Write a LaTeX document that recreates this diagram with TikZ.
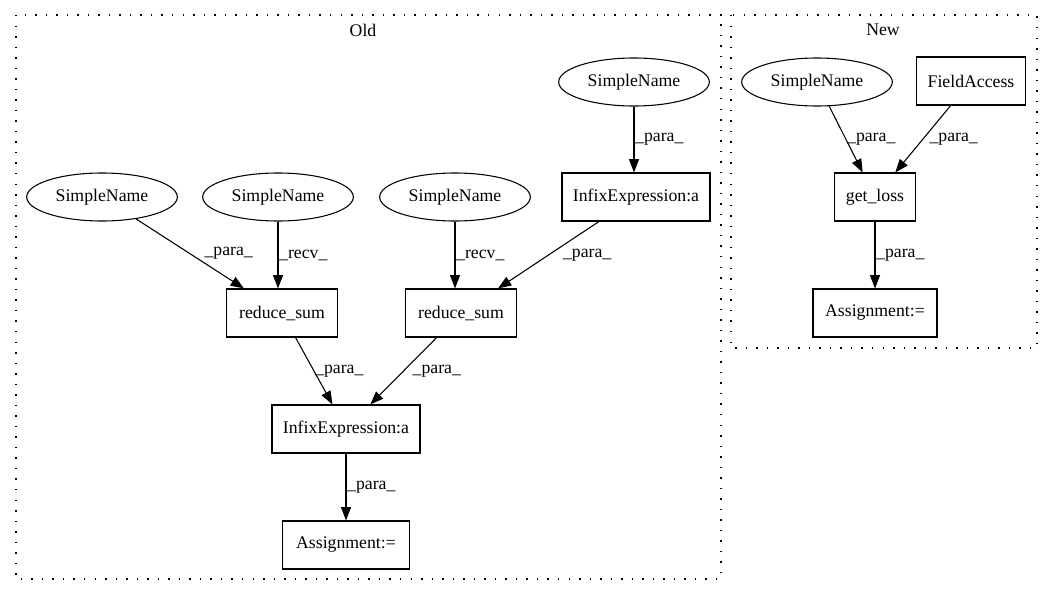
\documentclass[tikz,border=0pt]{standalone}
\usepackage{fontspec}
\setmainfont{Liberation Serif}
\usetikzlibrary{arrows.meta,shapes.geometric}

\tikzset{
  sname/.style={ellipse, draw, minimum width=113pt, minimum height=36pt, inner sep=0pt},
  ebox/.style={rectangle, draw, minimum height=36pt, inner sep=0pt},
  lbl/.style={anchor=west, inner sep=0.5pt},
  dep/.style={-{Triangle[length=10pt,width=7.5pt]}},
  cluster/.style={line width=1pt, dash pattern=on 1.1pt off 6.8pt}
}

\begin{document}
\begin{tikzpicture}[x=0.75pt,y=-0.75pt,line width=0.8pt,font=\fontsize{13.3}{16}\selectfont]
  \useasboundingbox (0,0) rectangle (1060,596);

  % clusters
  \draw[cluster] (16,15) rectangle (721,579);
  \node (old) at (363,30) {Old};
  \draw[cluster] (731,15) rectangle (1037,348);
  \node (new) at (883,30) {New};

  % old
  \node[sname] (sn1) at (102,197) {SimpleName};
  \node[sname] (sn2) at (278,197) {SimpleName};
  \node[sname] (sn3) at (455,197) {SimpleName};
  \node[sname] (sn4) at (634,82) {SimpleName};
  \node[ebox, minimum width=111pt] (inf1) at (636,197) {InfixExpression:a};
  \node[ebox, minimum width=83pt] (rs1) at (282,313) {reduce\_sum};
  \node[ebox, minimum width=83pt] (rs2) at (461,313) {reduce\_sum};
  \node[ebox, minimum width=111pt] (inf2) at (346,429) {InfixExpression:a};
  \node[ebox, minimum width=95pt] (asg1) at (346,545) {Assignment:=};

  % new
  \node[sname] (sn5) at (817,82) {SimpleName};
  \node[ebox, minimum width=82pt] (fa) at (971,81) {FieldAccess};
  \node[ebox, minimum width=61pt] (gl) at (875,197) {get\_loss};
  \node[ebox, minimum width=93pt] (asg2) at (875,313) {Assignment:=};

  \draw[dep] (sn1) -- (rs1) node[lbl, midway, xshift=10pt] {\_para\_};
  \draw[dep] (sn2) -- (sn2 |- rs1.north) node[lbl, midway] {\_recv\_};
  \draw[dep] (sn3) -- (sn3 |- rs2.north) node[lbl, midway] {\_recv\_};
  \draw[dep] (sn4) -- (sn4 |- inf1.north) node[lbl, midway] {\_para\_};
  \draw[dep] (inf1) -- (rs2) node[lbl, midway, xshift=10pt] {\_para\_};
  \draw[dep] (rs1) -- (inf2) node[lbl, midway] {\_para\_};
  \draw[dep] (rs2) -- (inf2) node[lbl, midway, xshift=6pt] {\_para\_};
  \draw[dep] (inf2) -- (asg1) node[lbl, midway] {\_para\_};
  \draw[dep] (sn5) -- (gl) node[lbl, midway] {\_para\_};
  \draw[dep] (fa) -- (gl) node[lbl, midway, xshift=4pt] {\_para\_};
  \draw[dep] (gl) -- (asg2) node[lbl, midway] {\_para\_};
\end{tikzpicture}
\end{document}
